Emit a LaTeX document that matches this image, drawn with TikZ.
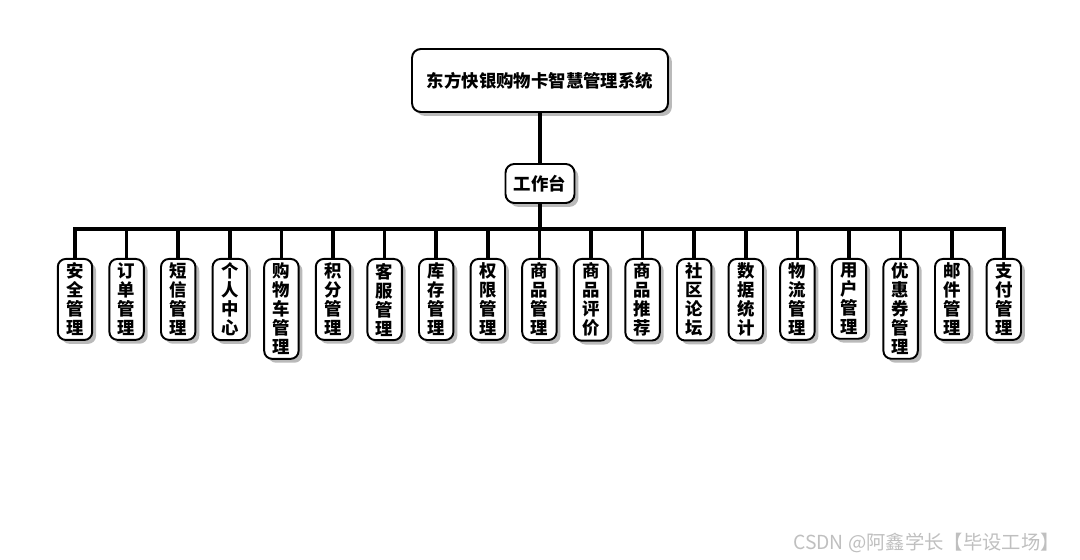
\documentclass[tikz,border=0pt]{standalone}
\usepackage{fontspec}
\setmainfont{Noto Sans CJK SC}
\usetikzlibrary{shadows}
\usetikzlibrary{positioning}

\tikzset{
  caja/.style={draw=black, line width=1.1pt, fill=white, rounded corners=5pt,
    font=\fontsize{9.9}{10.8}\selectfont\bfseries,
    drop shadow={shadow xshift=2.2pt, shadow yshift=-2.2pt, opacity=0.45, fill=black!60}},
  hoja/.style={caja, rounded corners=4.5pt, align=center, inner xsep=0.17cm, inner ysep=0.08cm, anchor=north},
  linea/.style={line width=2pt, line join=miter},
}

\begin{document}
\begin{tikzpicture}[x=0.02cm, y=-0.02cm]
  \useasboundingbox (0,0) rectangle (1080,560);

  % sistema y workbench
  \node[caja, minimum width=5.12cm, minimum height=1.26cm] (sys) at (540,80.5) {东方快银购物卡智慧管理系统};
  \node[caja, minimum width=1.38cm, minimum height=0.78cm] (gzt) at (540,183.5) {工作台};
  \coordinate (bus) at (540,229);

  % modulos
  \foreach \i/\t in {1/{安\\全\\管\\理}, 2/{订\\单\\管\\理}, 3/{短\\信\\管\\理}, 4/{个\\人\\中\\心},
      5/{购\\物\\车\\管\\理}, 6/{积\\分\\管\\理}, 7/{客\\服\\管\\理}, 8/{库\\存\\管\\理},
      9/{权\\限\\管\\理}, 10/{商\\品\\管\\理}, 11/{商\\品\\评\\价}, 12/{商\\品\\推\\荐},
      13/{社\\区\\论\\坛}, 14/{数\\据\\统\\计}, 15/{物\\流\\管\\理}, 16/{用\\户\\管\\理},
      17/{优\\惠\\券\\管\\理}, 18/{邮\\件\\管\\理}, 19/{支\\付\\管\\理}}
    \node[hoja] (m\i) at ({75+(\i-1)*51.6},258) {\t};

  % conexiones
  \draw[linea] (sys) -- (gzt);
  \draw[linea] (gzt) -- (bus);
  \draw[linea] (m1.north) |- (m19.north |- bus) -- (m19.north);
  \foreach \i in {2,...,18}
    \draw[linea] (m\i.north) -- (m\i.north |- bus);

  \node[text=black!25, font=\fontsize{11}{13}\selectfont, anchor=east] (marca) at (1066,543) {CSDN @阿鑫学长【毕设工场】};
\end{tikzpicture}
\end{document}
